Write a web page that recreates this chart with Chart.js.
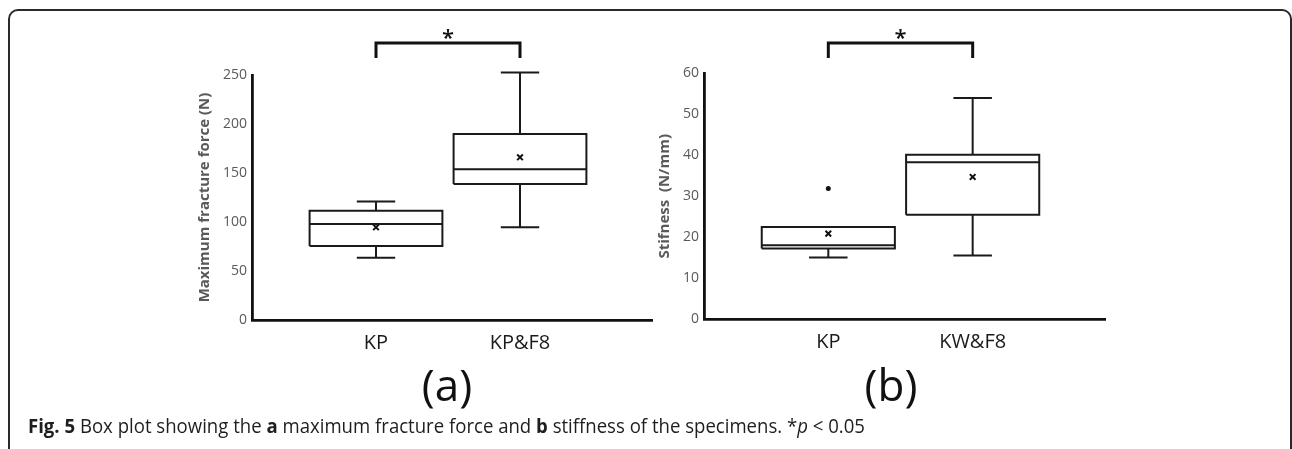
<!DOCTYPE html>
<html>
<head>
<meta charset="utf-8">
<script src="https://cdn.jsdelivr.net/npm/chart.js@4.4.0/dist/chart.umd.min.js"></script>
<style>
  html, body { margin: 0; padding: 0; background: #fff; width: 1292px; height: 449px; overflow: hidden; font-family: "Open Sans", sans-serif; }
  #frame { position: absolute; left: 8px; top: 9px; width: 1284px; height: 520px; box-sizing: border-box; border: 2px solid #2a2a2a; border-radius: 10px; }
  .chartbox { position: absolute; top: 0; width: 510px; height: 360px; }
  .panel { position: absolute; font-size: 44px; color: #111; line-height: 1; transform: translate(-50%, -50%); }
  #caption { position: absolute; left: 28px; top: 412px; font-size: 20px; white-space: nowrap; color: #1e1e1e; transform-origin: left center; }
</style>
</head>
<body>
<div id="frame"></div>
<div class="chartbox" style="left:160px"><canvas id="chartA" width="510" height="360"></canvas></div>
<div class="chartbox" style="left:610px"><canvas id="chartB" width="510" height="360"></canvas></div>
<div class="panel" style="left:447px; top:384px">(a)</div>
<div class="panel" style="left:891px; top:384px">(b)</div>
<div id="caption"><b>Fig. 5</b> Box plot showing the <b>a</b> maximum fracture force and <b>b</b> stiffness of the specimens. *<i>p</i> &lt; 0.05</div>

<script>
// (a) maximum fracture force (N)
const groupsA = ['KP', 'KP&F8'];
const minA = [63.6, 94.6];
const q1A = [75.5, 138.8];
const medianA = [98, 153.8];
const q3A = [111.5, 189.8];
const maxA = [121, 252.5];
const meanA = [94.6, 166];
const outliersA = [[], []];

// (b) stiffness (N/mm)
const groupsB = ['KP', 'KW&F8'];
const minB = [15.1, 15.6];
const q1B = [17.3, 25.5];
const medianB = [18.1, 38.3];
const q3B = [22.5, 40.1];
const maxB = [22.5, 53.9];
const meanB = [20.9, 34.7];
const outliersB = [[31.9], []];

// where the two boxes sit along the x axis (0..1), and their widths
const slotX = [0.31, 0.67];
const boxW = 0.332;
const capW = 0.096;

Chart.defaults.font.family = "'Open Sans', sans-serif";

// line pieces of each box plot, broken apart by null points
function boxLines(mins, q1s, meds, q3s, maxs) {
  const pts = [];
  const gap = (x) => pts.push({ x: x, y: null });
  slotX.forEach((c, i) => {
    const l = c - boxW / 2, r = c + boxW / 2;
    pts.push({ x: l, y: q1s[i] }, { x: r, y: q1s[i] }, { x: r, y: q3s[i] }, { x: l, y: q3s[i] }, { x: l, y: q1s[i] });
    gap(l);
    pts.push({ x: l, y: meds[i] }, { x: r, y: meds[i] });
    gap(r);
    pts.push({ x: c, y: q3s[i] }, { x: c, y: maxs[i] });
    gap(c);
    pts.push({ x: c - capW / 2, y: maxs[i] }, { x: c + capW / 2, y: maxs[i] });
    gap(c);
    pts.push({ x: c, y: q1s[i] }, { x: c, y: mins[i] });
    gap(c);
    pts.push({ x: c - capW / 2, y: mins[i] }, { x: c + capW / 2, y: mins[i] });
    gap(c);
  });
  return pts;
}

const bracketPlugin = {
  id: 'bracket',
  afterDraw(chart) {
    const { ctx, scales: { x } } = chart;
    const x1 = x.getPixelForValue(slotX[0]);
    const x2 = x.getPixelForValue(slotX[1]);
    ctx.save();
    ctx.strokeStyle = '#111';
    ctx.lineWidth = 3;
    ctx.beginPath();
    ctx.moveTo(x1, 58);
    ctx.lineTo(x1, 43);
    ctx.lineTo(x2, 43);
    ctx.lineTo(x2, 58);
    ctx.stroke();
    ctx.fillStyle = '#111';
    ctx.font = "600 22px 'Open Sans'";
    ctx.textAlign = 'center';
    ctx.textBaseline = 'alphabetic';
    ctx.fillText('*', (x1 + x2) / 2, 45);
    ctx.restore();
  }
};

function makeBoxChart(id, opts) {
  const ctx = document.getElementById(id).getContext('2d');
  const outPts = [];
  opts.outliers.forEach((list, i) => list.forEach(v => outPts.push({ x: slotX[i], y: v })));

  return new Chart(ctx, {
    type: 'scatter',
    data: {
      datasets: [
        {
          data: boxLines(opts.mins, opts.q1s, opts.meds, opts.q3s, opts.maxs),
          showLine: true,
          spanGaps: false,
          borderColor: '#1a1a1a',
          borderWidth: 2,
          pointRadius: 0,
          clip: false
        },
        {
          data: slotX.map((c, i) => ({ x: c, y: opts.means[i] })),
          pointStyle: 'crossRot',
          pointRadius: 4,
          borderWidth: 2,
          borderColor: '#111',
          backgroundColor: '#111'
        },
        {
          data: outPts,
          pointStyle: 'circle',
          pointRadius: 2.5,
          borderWidth: 0,
          backgroundColor: '#111'
        }
      ]
    },
    options: {
      responsive: false,
      animation: false,
      events: [],
      layout: { padding: { top: opts.top, right: opts.right, left: 0, bottom: 0 } },
      plugins: { legend: { display: false }, tooltip: { enabled: false } },
      scales: {
        x: {
          type: 'linear',
          min: 0,
          max: 1,
          afterBuildTicks: (axis) => { axis.ticks = slotX.map(v => ({ value: v })); },
          afterFit: (axis) => { axis.height = 360 - opts.bottom; },
          grid: { display: false, drawTicks: false },
          border: { display: true, color: '#111', width: 2.8 },
          ticks: {
            autoSkip: false,
            maxRotation: 0,
            padding: 11,
            color: '#1a1a1a',
            font: { size: 20 },
            callback: (v, i) => opts.groups[i]
          }
        },
        y: {
          min: 0,
          max: opts.yMax,
          afterFit: (axis) => { axis.width = opts.axisLeft; },
          grid: { display: false, drawTicks: false },
          border: { display: true, color: '#111', width: 2.8 },
          ticks: {
            stepSize: opts.step,
            padding: 5,
            color: '#595959',
            font: { size: 14 }
          },
          title: {
            display: true,
            text: opts.title,
            color: '#595959',
            font: { size: 15, weight: 'bold' },
            padding: { top: opts.titleX - 9, bottom: 0 }
          }
        }
      }
    },
    plugins: [bracketPlugin]
  });
}

makeBoxChart('chartA', {
  groups: groupsA, mins: minA, q1s: q1A, meds: medianA, q3s: q3A, maxs: maxA,
  means: meanA, outliers: outliersA,
  yMax: 250, step: 50, title: 'Maximum fracture force (N)',
  top: 75, bottom: 320, right: 18, axisLeft: 92, titleX: 45
});

makeBoxChart('chartB', {
  groups: groupsB, mins: minB, q1s: q1B, meds: medianB, q3s: q3B, maxs: maxB,
  means: meanB, outliers: outliersB,
  yMax: 60, step: 10, title: 'Stifness  (N/mm)',
  top: 73, bottom: 319.5, right: 15, axisLeft: 94, titleX: 55
});

// squeeze the caption to the width it has in the figure
const caption = document.getElementById('caption');
const w = caption.getBoundingClientRect().width;
caption.style.transform = 'scaleX(' + (837 / w) + ')';
</script>
</body>
</html>
